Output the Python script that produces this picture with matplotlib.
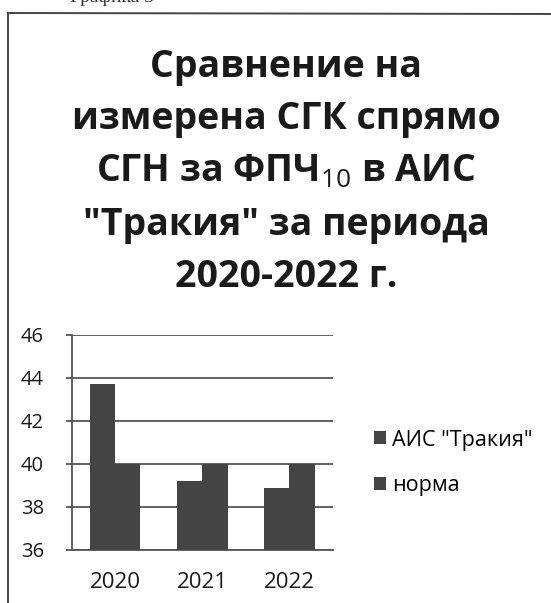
import numpy as np
import matplotlib.pyplot as plt
from matplotlib.lines import Line2D

years = ['2020', '2021', '2022']
ais_trakia = [43.7, 39.2, 38.9]
norma = [40, 40, 40]
series_names = ['АИС "Тракия"', 'норма']
yticks = [36, 38, 40, 42, 44, 46]

plt.rcParams['font.family'] = ['Open Sans', 'DejaVu Sans']
plt.rcParams['mathtext.fontset'] = 'custom'
plt.rcParams['mathtext.rm'] = 'Open Sans'

bar_color = '#444444'
grid_color = '#555555'

fig = plt.figure(figsize=(5.51, 6.03), dpi=100)
fig.patch.set_facecolor('white')

# scanned page frame
fig.add_artist(Line2D([8 / 551, 1], [1 - 13 / 603, 1 - 14 / 603], color='#444444', lw=1.4))
fig.add_artist(Line2D([8 / 551, 8 / 551], [1 - 13 / 603, 0], color='#444444', lw=1.4))
fig.text(70 / 551, 1 - 2 / 603, 'Графика 3', family='Liberation Serif', fontsize=14,
         color='#333333', va='baseline', ha='left')

fig.text(286 / 551, 1 - 172 / 603,
         'Сравнение на\nизмерена СГК спрямо\nСГН за ФПЧ$_{\\mathrm{10}}$ в АИС\n"Тракия" за периода\n2020-2022 г.',
         ha='center', va='center', fontsize=27, fontweight='bold', linespacing=1.5,
         color='#1a1a1a')

ax = fig.add_axes([71.5 / 551, 1 - 550 / 603, 261.5 / 551, 215 / 603])
x = np.arange(len(years))
w = 0.29
b1 = ax.bar(x - w / 2, np.array(ais_trakia) - 36, w, bottom=36, color=bar_color, label=series_names[0], zorder=3)
b2 = ax.bar(x + w / 2, np.array(norma) - 36, w, bottom=36, color=bar_color, label=series_names[1], zorder=3)

ax.set_xlim(-0.5, 2.5)
ax.set_ylim(36, 46)
ax.set_yticks(yticks)
ax.set_xticks(x)
ax.set_xticklabels(years)
ax.yaxis.grid(True, color=grid_color, lw=1.3, zorder=1)
ax.set_axisbelow(True)
for s in ['top', 'right']:
    ax.spines[s].set_visible(False)
ax.spines['left'].set_color(grid_color)
ax.spines['bottom'].set_color(grid_color)
ax.spines['left'].set_linewidth(1.3)
ax.spines['bottom'].set_linewidth(1.3)
ax.tick_params(axis='y', length=4, width=1.3, color=grid_color, labelsize=14.5, pad=16, labelcolor='#1a1a1a')
ax.tick_params(axis='x', length=0, labelsize=16, pad=16, labelcolor='#1a1a1a')

ax.legend(handles=[b1, b2], loc='center left', bbox_to_anchor=(1.082, 0.405), frameon=False,
          fontsize=15.5, handlelength=0.55, handleheight=0.55, handletextpad=0.28, labelspacing=1.15)

fig.savefig('out.png', dpi=100)
